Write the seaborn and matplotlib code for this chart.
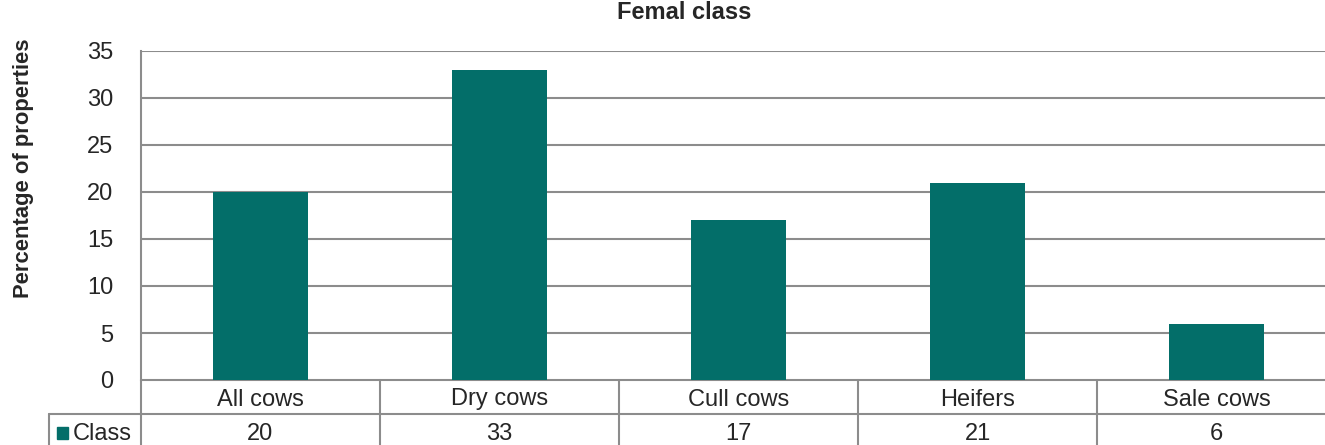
import matplotlib
matplotlib.use("Agg")
import matplotlib.pyplot as plt
from matplotlib.patches import Rectangle
import seaborn as sns
import pandas as pd

# --- DATA ---
categories = ["All cows", "Dry cows", "Cull cows", "Heifers", "Sale cows"]
values = [20, 33, 17, 21, 6]
series_name = "Class"
y_ticks = [0, 5, 10, 15, 20, 25, 30, 35]
title = "Femal class"
y_label = "Percentage of properties"

BAR_COLOR = "#036E69"
GRID_COLOR = "#8C8C8C"
FS = 17

sns.set_theme(style="white")
plt.rcParams["font.family"] = ["Liberation Sans", "DejaVu Sans"]

W, H = 1325, 445
fig = plt.figure(figsize=(W / 100, H / 100), dpi=100)

# plot area in pixels: left 141, right 1336 (clipped), top 51, bottom 380
left, right, top, bottom = 141, 1336, 51, 380
ax = fig.add_axes([left / W, (H - bottom) / H, (right - left) / W, (bottom - top) / H])

df = pd.DataFrame({"category": categories, "value": values})
sns.barplot(data=df, x="category", y="value", color=BAR_COLOR, width=0.4,
            saturation=1, linewidth=0, ax=ax, zorder=3)

ax.set_xlim(-0.5, len(categories) - 0.5)
ax.set_ylim(0, 35)
ax.set_yticks(y_ticks)
ax.set_yticklabels([str(t) for t in y_ticks], fontsize=FS)
ax.tick_params(axis="y", length=0, pad=20)
ax.set_xticks([])
ax.set_xlabel("")
ax.set_ylabel("")
for t in y_ticks[1:]:
    ax.axhline(t, color=GRID_COLOR, lw=1.5, zorder=1)
for side in ["top", "right", "bottom"]:
    ax.spines[side].set_visible(False)
ax.spines["left"].set_color(GRID_COLOR)
ax.spines["left"].set_linewidth(1.5)

# --- data table below the axis ---
row_h = 34 / (bottom - top)          # one table row in axes units
col_w = right - left
label_x = (49 - left) / (col_w / len(categories)) - 0.5   # row-label cell left edge
trans = ax.get_xaxis_transform()
line_kw = dict(color=GRID_COLOR, lw=1.5, transform=trans, clip_on=False)

ax.plot([-0.5, len(categories)], [0, 0], **line_kw)
ax.plot([label_x, len(categories)], [-row_h, -row_h], **line_kw)
ax.plot([-0.5, -0.5], [0, -3 * row_h], **line_kw)
ax.plot([label_x, label_x], [-row_h, -3 * row_h], **line_kw)
for i in range(1, len(categories) + 1):
    ax.plot([i - 0.5, i - 0.5], [0, -3 * row_h], **line_kw)

for i, (cat, val) in enumerate(zip(categories, values)):
    ax.text(i, -row_h / 2, cat, transform=trans, ha="center", va="center_baseline",
            fontsize=FS, clip_on=False)
    ax.text(i, -1.5 * row_h, str(val), transform=trans, ha="center",
            va="center_baseline", fontsize=FS, clip_on=False)

# legend key in the row-label cell
fig.patches.append(Rectangle((57 / W, 1 - 439 / H), 11 / W, 12 / H,
                             transform=fig.transFigure, color=BAR_COLOR))
fig.text(73 / W, 1 - 431 / H, series_name, fontsize=FS, ha="left",
         va="center_baseline")

# --- titles ---
fig.text(684 / W, 1 - 19 / H, title, fontsize=17, fontweight="bold",
         ha="center", va="baseline")
fig.text(24 / W, 1 - 168 / H, y_label, fontsize=15.8, fontweight="bold",
         rotation=90, ha="center", va="center")

fig.savefig("out.png", dpi=100)
